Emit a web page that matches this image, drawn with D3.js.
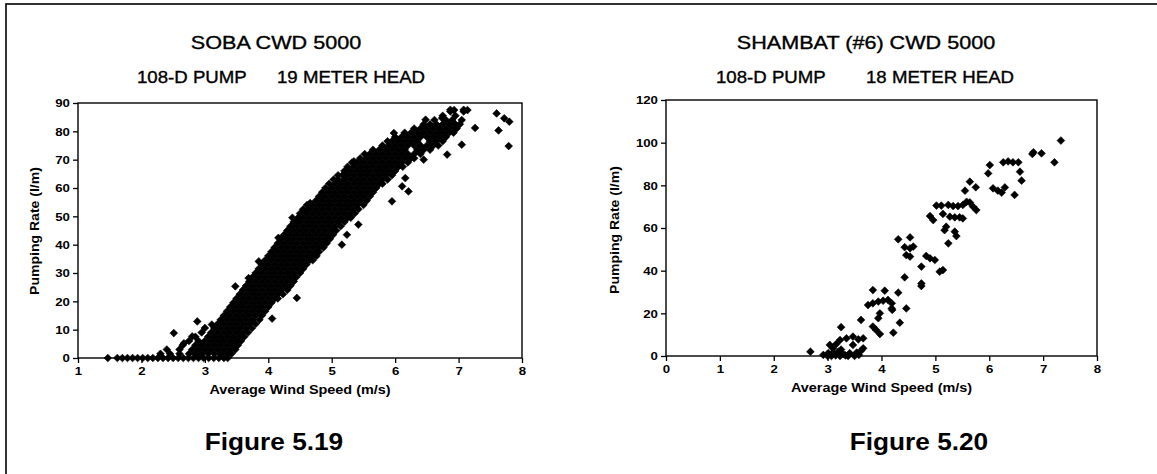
<!DOCTYPE html>
<html>
<head>
<meta charset="utf-8">
<script src="https://cdn.jsdelivr.net/npm/d3@7"></script>
<style>
  body { margin: 0; background: #fff; }
  svg text { font-family: "Liberation Sans", Arial, Helvetica, sans-serif; fill: #000; }
</style>
</head>
<body>
<svg id="fig" width="1157" height="474"></svg>
<script>
// ---- data ----

// Figure 5.19 (Soba): the dense cloud, one row per pumping rate -> wind speeds seen at that rate
var sobaRows = [
    [0, [1.62, 1.7, 1.78, 1.86, 1.94, 2.02, 2.1, 2.18, 2.26, 2.34, 2.42, 2.5, 2.58, 2.66, 2.74, 2.82, 2.9, 2.98, 3.06, 3.14, 3.22, 3.3, 3.36]],
    [1.5, [2.3, 2.45, 2.6, 2.75, 2.85, 2.95, 3.05, 3.15, 3.25, 3.35, 3.42]],
    [3, [2.4, 2.6, 2.8, 2.9, 3.0, 3.1, 3.2, 3.3, 3.4, 3.48]],
    [4.5, [2.65, 2.85, 2.95, 3.05, 3.15, 3.25, 3.35, 3.45, 3.52]],
    [6, [2.75, 2.9, 3.0, 3.1, 3.2, 3.3, 3.4, 3.5, 3.57]],
    [7.5, [2.85, 3.05, 3.15, 3.25, 3.35, 3.45, 3.55, 3.62]],
    [9, [2.95, 3.1, 3.2, 3.3, 3.4, 3.5, 3.6, 3.68]],
    [10.5, [3.15, 3.25, 3.35, 3.45, 3.55, 3.65, 3.74]],
    [12, [3.2, 3.3, 3.4, 3.5, 3.6, 3.7, 3.8]],
    [13.5, [3.25, 3.35, 3.45, 3.55, 3.65, 3.75, 3.86]],
    [15, [3.3, 3.4, 3.5, 3.6, 3.7, 3.8, 3.9]],
    [16.5, [3.35, 3.45, 3.55, 3.65, 3.75, 3.85, 3.95]],
    [18, [3.4, 3.5, 3.6, 3.7, 3.8, 3.9, 4.0]],
    [19.5, [3.45, 3.55, 3.65, 3.75, 3.85, 3.95, 4.05]],
    [21, [3.5, 3.6, 3.7, 3.8, 3.9, 4.0, 4.1, 4.15]],
    [22.5, [3.55, 3.65, 3.75, 3.85, 3.95, 4.05, 4.15, 4.23]],
    [24, [3.6, 3.7, 3.8, 3.9, 4.0, 4.1, 4.2, 4.3]],
    [25.5, [3.65, 3.75, 3.85, 3.95, 4.05, 4.15, 4.25, 4.35]],
    [27, [3.7, 3.8, 3.9, 4.0, 4.1, 4.2, 4.3, 4.4]],
    [28.5, [3.75, 3.85, 3.95, 4.05, 4.15, 4.25, 4.35, 4.44]],
    [30, [3.8, 3.9, 4.0, 4.1, 4.2, 4.3, 4.4, 4.5]],
    [31.5, [3.85, 3.95, 4.05, 4.15, 4.25, 4.35, 4.45, 4.55]],
    [33, [3.9, 4.0, 4.1, 4.2, 4.3, 4.4, 4.5, 4.6]],
    [34.5, [3.95, 4.05, 4.15, 4.25, 4.35, 4.45, 4.55, 4.65, 4.7]],
    [36, [4.0, 4.1, 4.2, 4.3, 4.4, 4.5, 4.6, 4.7, 4.76]],
    [37.5, [4.05, 4.15, 4.25, 4.35, 4.45, 4.55, 4.65, 4.75, 4.8]],
    [39, [4.1, 4.2, 4.3, 4.4, 4.5, 4.6, 4.7, 4.8, 4.87]],
    [40.5, [4.15, 4.25, 4.35, 4.45, 4.55, 4.65, 4.75, 4.85, 4.92]],
    [42, [4.2, 4.3, 4.4, 4.5, 4.6, 4.7, 4.8, 4.9, 4.97]],
    [43.5, [4.25, 4.35, 4.45, 4.55, 4.65, 4.75, 4.85, 4.95, 5.02]],
    [45, [4.3, 4.4, 4.5, 4.6, 4.7, 4.8, 4.9, 5.0, 5.07]],
    [46.5, [4.35, 4.45, 4.55, 4.65, 4.75, 4.85, 4.95, 5.05, 5.14]],
    [48, [4.4, 4.5, 4.6, 4.7, 4.8, 4.9, 5.0, 5.1, 5.2]],
    [49.5, [4.38, 4.47, 4.55, 4.65, 4.75, 4.85, 4.95, 5.05, 5.15, 5.25, 5.3]],
    [51, [4.5, 4.6, 4.7, 4.8, 4.9, 5.0, 5.1, 5.2, 5.3, 5.36]],
    [52.5, [4.55, 4.65, 4.75, 4.85, 4.95, 5.05, 5.15, 5.25, 5.35, 5.42]],
    [54, [4.61, 4.7, 4.8, 4.9, 5.0, 5.1, 5.2, 5.3, 5.4, 5.5]],
    [55.5, [4.75, 4.85, 4.95, 5.05, 5.15, 5.25, 5.35, 5.45, 5.55]],
    [57, [4.8, 4.9, 5.0, 5.1, 5.2, 5.3, 5.4, 5.5, 5.6]],
    [58.5, [4.85, 4.95, 5.05, 5.15, 5.25, 5.35, 5.45, 5.55, 5.65]],
    [60, [4.9, 5.0, 5.1, 5.2, 5.3, 5.4, 5.5, 5.6, 5.7]],
    [61.5, [4.96, 5.05, 5.15, 5.25, 5.35, 5.45, 5.55, 5.65, 5.75, 5.8]],
    [63, [5.03, 5.1, 5.2, 5.3, 5.4, 5.5, 5.6, 5.7, 5.8, 5.88]],
    [64.5, [5.1, 5.17, 5.25, 5.35, 5.45, 5.55, 5.65, 5.75, 5.85, 5.95]],
    [66, [5.2, 5.3, 5.4, 5.5, 5.6, 5.7, 5.8, 5.9, 6.0]],
    [67.5, [5.25, 5.35, 5.45, 5.55, 5.65, 5.75, 5.85, 5.95, 6.05, 6.12]],
    [69, [5.32, 5.4, 5.5, 5.6, 5.7, 5.8, 5.9, 6.0, 6.1, 6.2]],
    [70.5, [5.45, 5.55, 5.65, 5.75, 5.85, 5.95, 6.05, 6.15, 6.25, 6.3]],
    [72, [5.52, 5.6, 5.7, 5.8, 5.9, 6.0, 6.1, 6.2, 6.3, 6.4]],
    [73.5, [5.65, 5.75, 5.85, 5.95, 6.05, 6.15, 6.35, 6.45, 6.55]],
    [75, [5.8, 5.9, 6.0, 6.1, 6.2, 6.3, 6.4, 6.5, 6.6, 6.68]],
    [76.5, [5.88, 5.95, 6.05, 6.15, 6.25, 6.35, 6.55, 6.65, 6.75]],
    [78, [6.0, 6.1, 6.2, 6.3, 6.4, 6.5, 6.6, 6.7, 6.8]],
    [79.5, [6.15, 6.25, 6.35, 6.45, 6.55, 6.65, 6.75, 6.85, 6.92]],
    [81, [6.3, 6.4, 6.5, 6.6, 6.7, 6.8, 6.9, 6.97]],
    [82.5, [6.45, 6.55, 6.65, 6.75, 6.85, 6.95, 7.02]],
    [84, [6.62, 6.8, 6.9, 7.05]],
    [85.5, [6.75, 6.95]],
    [87, [6.87, 7.08]]
];

// Figure 5.19: the loose points around the cloud [wind speed, pumping rate]
var sobaScatter = [
    [1.47, 0], [2.51, 8.8], [2.67, 5.2], [2.8, 7.6], [2.88, 12.9], [3.0, 10.6], [3.11, 11.8],
    [3.48, 25.3], [3.69, 28.2], [3.85, 34.1], [4.06, 13.9], [4.45, 21.2], [4.16, 42.4],
    [4.45, 48.5], [4.58, 51.8], [4.66, 54.7], [5.16, 40], [5.24, 43.5], [5.42, 47.1],
    [5.95, 55.3], [6.21, 58.8], [6.11, 60.6], [6.16, 63.5], [5.35, 69.4], [5.98, 79.4],
    [6.48, 84.1], [6.45, 70], [6.82, 71.8], [7.05, 75.3], [6.87, 87.6], [7.08, 87.6],
    [6.74, 84.7], [7.26, 81.2], [7.6, 86.3], [7.72, 84.6], [7.8, 83.4], [7.63, 80.3],
    [7.79, 74.8], [7.14, 87.5], [6.93, 87.5]
];

// Figure 5.20 (Shambat #6): [wind speed, pumping rate]
var shambatPoints = [
    [2.68, 2], [2.92, 0.5], [3.0, 0], [3.01, 1.3], [3.07, 0], [3.1, 1.6], [3.15, 0.3], [3.2, 2],
    [3.23, 0], [3.29, 0.9], [3.33, 0.3], [3.38, 0], [3.41, 1.3], [3.5, 0], [3.54, 1.6], [3.58, 0.5],
    [3.62, 2.5], [3.66, 3.6], [3.04, 5.2], [3.16, 5.6], [3.1, 3.5], [3.25, 3], [3.47, 5.2],
    [3.23, 7.5], [3.35, 8.3], [3.47, 9.1], [3.57, 7.8], [3.66, 8.3], [3.25, 13.5], [3.62, 16.9],
    [3.75, 23.9], [3.84, 24.7], [3.94, 25.5], [4.03, 25.9], [4.12, 26.3], [4.19, 24.7],
    [4.19, 22.3], [4.2, 21.6], [4.46, 22.3], [3.97, 20], [3.94, 17.7], [4.34, 15.6],
    [3.84, 13.8], [3.9, 12.2], [3.97, 10.3], [4.22, 10.9], [3.84, 30.9], [4.06, 30.6],
    [4.31, 29.7], [4.43, 36.9], [4.74, 34], [4.74, 32.8], [4.74, 41.9], [5.08, 39.5],
    [5.14, 40.3], [4.46, 47.3], [4.53, 46.6], [4.83, 46.9], [4.9, 45.8], [4.99, 45],
    [4.43, 51], [4.53, 50.5], [4.59, 51.3], [4.31, 54.7], [4.53, 55.6], [5.24, 52.8],
    [5.36, 58.3], [5.39, 56.2], [5.2, 60.6], [5.17, 59], [4.9, 65.6], [4.96, 63.7],
    [5.14, 66.6], [5.27, 65.3], [5.36, 65], [5.45, 65], [5.51, 64.5], [5.02, 70.5],
    [5.11, 70.5], [5.24, 70.8], [5.33, 70.3], [5.42, 70.3], [5.51, 70.8], [5.58, 72.3],
    [5.64, 72], [5.7, 70], [5.76, 68.4], [5.64, 81.7], [5.75, 79.1], [5.55, 77.5],
    [6.07, 78.6], [6.16, 77.5], [6.23, 76.6], [6.29, 79], [6.47, 75.5], [6.01, 89.5],
    [5.98, 85.6], [6.26, 90.8], [6.35, 91.2], [6.44, 90.8], [6.54, 90.8], [6.57, 86.4],
    [6.6, 82.2], [6.8, 94.7], [6.82, 95.5], [6.97, 95], [7.21, 90.8], [7.33, 101]
];

var sobaSpeedTicks = [1, 2, 3, 4, 5, 6, 7, 8];
var sobaRateTicks = [0, 10, 20, 30, 40, 50, 60, 70, 80, 90];
var shambatSpeedTicks = [0, 1, 2, 3, 4, 5, 6, 7, 8];
var shambatRateTicks = [0, 20, 40, 60, 80, 100, 120];

// ---- drawing ----

var svg = d3.select("#fig");
var STRETCH = 1.15;   // the scanned lettering is wider than Arial

// outer frame of the page (right and bottom run off the picture)
svg.append("rect")
    .attr("x", 6).attr("y", 4)
    .attr("width", 1200).attr("height", 520)
    .attr("fill", "none").attr("stroke", "#000").attr("stroke-width", 1.6);

// diamond marker drawn through d3.symbol
var diamondType = {
    draw: function (ctx, size) {
        var r = Math.sqrt(size / 2);
        ctx.moveTo(0, -r);
        ctx.lineTo(r, 0);
        ctx.lineTo(0, r);
        ctx.lineTo(-r, 0);
        ctx.closePath();
    }
};
var diamond = d3.symbol().type(diamondType).size(30)();

function label(g, str, x, y, size, weight, anchor, sx) {
    return g.append("text")
        .attr("transform", "translate(" + x + "," + y + ") scale(" + (sx || STRETCH) + ",1)")
        .attr("text-anchor", anchor || "middle")
        .attr("font-size", size)
        .attr("font-weight", weight || "normal")
        .text(str);
}

function drawPanel(p) {
    var g = svg.append("g");
    var x = d3.scaleLinear().domain(p.xDomain).range(p.xRange);
    var y = d3.scaleLinear().domain(p.yDomain).range(p.yRange);

    // titles (scanned type is a little heavy, so give it a hairline stroke)
    [label(g, p.title, p.titleX, 48.5, 18, "normal", "middle", 1.2),
     label(g, p.sub1, p.sub1X, 83, 16.5, "normal", "start", 1.13),
     label(g, p.sub2, p.sub2X, 83, 16.5, "normal", "start", 1.13)]
        .forEach(t => t.attr("stroke", "#000").attr("stroke-width", 0.35));

    // points
    g.append("g").selectAll("path")
        .data(p.points)
        .join("path")
        .attr("d", diamond)
        .attr("transform", d => "translate(" + x(d[0]) + "," + y(d[1]) + ")")
        .attr("fill", "#000")
        .attr("stroke", "#000")
        .attr("stroke-width", 0.6);

    // frame
    g.append("rect")
        .attr("x", p.xRange[0]).attr("y", p.yRange[1])
        .attr("width", p.xRange[1] - p.xRange[0])
        .attr("height", p.yRange[0] - p.yRange[1])
        .attr("fill", "none").attr("stroke", "#000").attr("stroke-width", 1.4);

    var xAxis = g.append("g")
        .attr("transform", "translate(0," + p.yRange[0] + ")")
        .call(d3.axisBottom(x).tickValues(p.xTicks).tickFormat(d3.format("d"))
            .tickSize(5).tickSizeOuter(0).tickPadding(4));
    var yAxis = g.append("g")
        .attr("transform", "translate(" + p.xRange[0] + ",0)")
        .call(d3.axisLeft(y).tickValues(p.yTicks).tickFormat(d3.format("d"))
            .tickSize(5).tickSizeOuter(0).tickPadding(2));

    [xAxis, yAxis].forEach(function (a) {
        a.select(".domain").remove();
        a.attr("font-family", null).attr("font-size", 11.5).attr("font-weight", "bold");
        a.selectAll("line").attr("stroke", "#000").attr("stroke-width", 1.3);
        a.selectAll("text").attr("fill", "#000").attr("transform", "scale(" + STRETCH + ",1)");
    });

    // axis titles
    label(g, "Average Wind Speed (m/s)", (p.xRange[0] + p.xRange[1]) / 2, p.xTitleY, 13, "bold", "middle", 1.11);
    g.append("text")
        .attr("transform", "translate(" + p.yTitleX + "," + p.yTitleY + ") rotate(-90) scale(1.17,1)")
        .attr("text-anchor", "middle")
        .attr("dy", "0.35em")
        .attr("font-size", 12)
        .attr("font-weight", "bold")
        .text("Pumping Rate (l/m)");

    // figure caption
    label(g, p.caption, p.captionX, 450, 23, "bold", "middle", 1.14);
}

// flatten the row table into [speed, rate] pairs
var sobaPoints = [];
sobaRows.forEach(function (row) {
    row[1].forEach(function (s) { sobaPoints.push([s, row[0]]); });
});
sobaPoints = sobaPoints.concat(sobaScatter);

drawPanel({
    xDomain: [1, 8], xRange: [78, 522],
    yDomain: [0, 90], yRange: [358, 103],
    xTicks: sobaSpeedTicks, yTicks: sobaRateTicks,
    points: sobaPoints,
    title: "SOBA CWD 5000", titleX: 276,
    sub1: "108-D PUMP", sub1X: 137,
    sub2: "19 METER HEAD", sub2X: 277,
    xTitleY: 394, yTitleX: 35, yTitleY: 231,
    caption: "Figure 5.19", captionX: 274
});

drawPanel({
    xDomain: [0, 8], xRange: [666, 1097],
    yDomain: [0, 120], yRange: [356, 100],
    xTicks: shambatSpeedTicks, yTicks: shambatRateTicks,
    points: shambatPoints,
    title: "SHAMBAT (#6) CWD 5000", titleX: 866,
    sub1: "108-D PUMP", sub1X: 716,
    sub2: "18 METER HEAD", sub2X: 866,
    xTitleY: 392, yTitleX: 615, yTitleY: 230,
    caption: "Figure 5.20", captionX: 919
});
</script>
</body>
</html>
